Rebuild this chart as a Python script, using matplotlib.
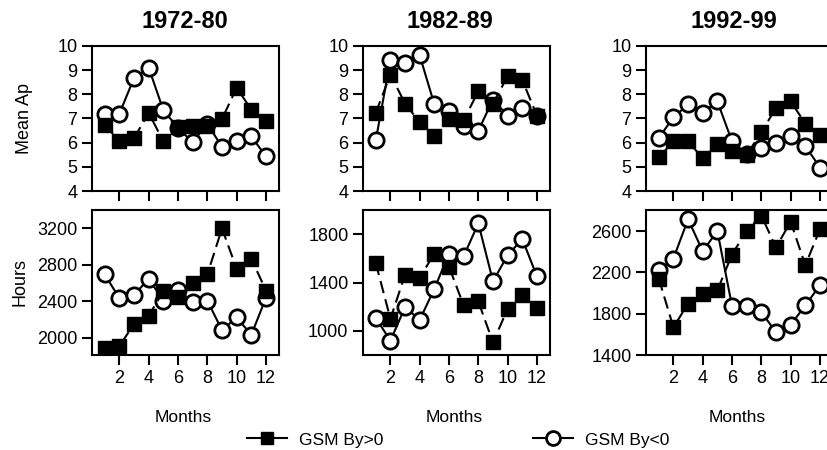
import matplotlib
matplotlib.use("Agg")
import matplotlib.pyplot as plt
from matplotlib.lines import Line2D

plt.rcParams['font.family'] = ['Liberation Sans', 'DejaVu Sans']

months = list(range(1, 13))
periods = ["1972-80", "1982-89", "1992-99"]

ap_pos = [
    [6.75, 6.05, 6.19, 7.23, 6.05, 6.63, 6.68, 6.70, 6.98, 8.27, 7.37, 6.88],
    [7.23, 8.82, 7.62, 6.84, 6.26, 6.98, 6.93, 8.13, 7.62, 8.75, 8.59, 7.12],
    [5.39, 6.05, 6.05, 5.36, 5.94, 5.64, 5.50, 6.43, 7.44, 7.71, 6.79, 6.33],
]
ap_neg = [
    [7.20, 7.20, 8.68, 9.10, 7.34, 6.61, 6.01, 6.79, 5.82, 6.05, 6.26, 5.43],
    [6.09, 9.42, 9.31, 9.61, 7.58, 7.30, 6.70, 6.50, 7.78, 7.12, 7.44, 7.12],
    [6.19, 7.05, 7.58, 7.23, 7.71, 6.05, 5.53, 5.78, 5.98, 6.26, 5.87, 4.97],
]
hours_pos = [
    [1889, 1908, 2148, 2240, 2510, 2443, 2605, 2694, 3200, 2757, 2868, 2517],
    [1563, 1098, 1465, 1440, 1641, 1530, 1209, 1242, 902, 1181, 1293, 1190],
    [2140, 1669, 1896, 1994, 2026, 2373, 2604, 2750, 2441, 2691, 2269, 2617],
]
hours_neg = [
    [2694, 2432, 2469, 2646, 2406, 2524, 2395, 2406, 2081, 2221, 2030, 2436],
    [1106, 916, 1195, 1089, 1348, 1641, 1619, 1892, 1410, 1627, 1761, 1451],
    [2221, 2334, 2714, 2406, 2600, 1874, 1874, 1815, 1621, 1692, 1880, 2075],
]

ap_ticks = [4, 5, 6, 7, 8, 9, 10]
hours_ticks = [
    [2000, 2400, 2800, 3200],
    [1000, 1400, 1800],
    [1400, 1800, 2200, 2600],
]
hours_lims = [(1808, 3403), (797, 2003), (1400, 2804)]
month_ticks = [2, 4, 6, 8, 10, 12]

W, H = 828, 450
fig = plt.figure(figsize=(W / 100, H / 100), dpi=100)

col_lefts = [92, 363, 646]
col_width = 187
row_tops = [46, 210]
row_height = 145

def px_axes(left, top, w, h):
    return fig.add_axes([left / W, 1 - (top + h) / H, w / W, h / H])

lw_spine = 1.5
tick_fs = 13

def style(ax):
    for s in ax.spines.values():
        s.set_linewidth(lw_spine)
    ax.tick_params(direction='out', length=7.5, width=lw_spine, labelsize=tick_fs, pad=3)
    ax.set_xlim(0.13, 12.89)
    ax.set_xticks(month_ticks)

def plot_pair(ax, pos, neg):
    ax.plot(months, neg, color='black', lw=1.5, ls='-', marker='o', ms=11,
            mfc='white', mec='black', mew=2.0, zorder=3)
    ax.plot(months, pos, color='black', lw=1.5, ls=(0, (6, 3)), marker='s', ms=10,
            mfc='black', mec='black', zorder=4)

title_x = [185, 450, 734]
for i in range(3):
    ax = px_axes(col_lefts[i], row_tops[0], col_width, row_height)
    plot_pair(ax, ap_pos[i], ap_neg[i])
    style(ax)
    ax.set_ylim(4, 10)
    ax.set_yticks(ap_ticks)
    ax.set_xticklabels([])
    fig.text(title_x[i] / W, 1 - 22 / H, periods[i], ha='center', va='center',
             fontsize=17, fontweight='bold')

    ax2 = px_axes(col_lefts[i], row_tops[1], col_width, row_height)
    plot_pair(ax2, hours_pos[i], hours_neg[i])
    style(ax2)
    ax2.set_ylim(*hours_lims[i])
    ax2.set_yticks(hours_ticks[i])
    ax2.set_xticklabels([str(m) for m in month_ticks])
    fig.text((col_lefts[i] + col_width / 2 - 2) / W, 1 - 418 / H, "Months",
             ha='center', va='center', fontsize=12.5)

fig.text(25 / W, 1 - 119 / H, "Mean Ap", rotation=90, ha='center', va='center', fontsize=13)
fig.text(20 / W, 1 - 282 / H, "Hours", rotation=90, ha='center', va='center', fontsize=13)

h_pos = Line2D([], [], color='black', lw=1.5, marker='s', ms=9, mfc='black', mec='black')
h_neg = Line2D([], [], color='black', lw=1.5, marker='o', ms=10, mfc='white', mec='black', mew=2.0)
fig.legend([h_pos], ["GSM By>0"], loc='center left', bbox_to_anchor=(240 / W, 1 - 440 / H),
           frameon=False, fontsize=12.5, handlelength=2.3, handletextpad=0.7, borderaxespad=0)
fig.legend([h_neg], ["GSM By<0"], loc='center left', bbox_to_anchor=(526 / W, 1 - 440 / H),
           frameon=False, fontsize=12.5, handlelength=2.3, handletextpad=0.7, borderaxespad=0)

fig.savefig("out.png", dpi=100)
